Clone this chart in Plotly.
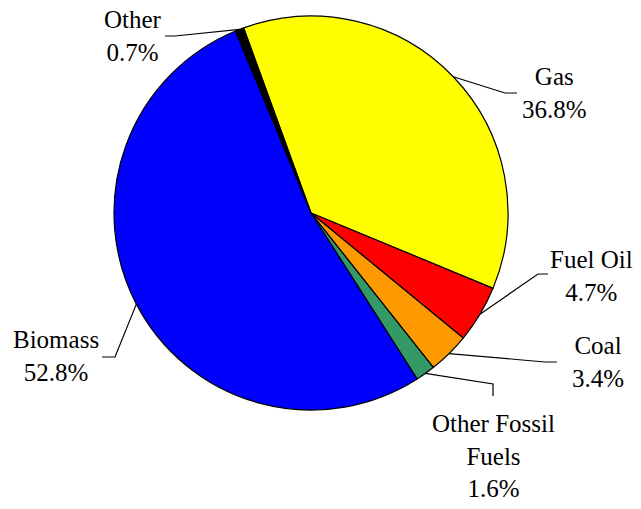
import math
import plotly.graph_objects as go

# Energy source shares (%)
sources = ["Gas", "Fuel Oil", "Coal", "Other Fossil Fuels", "Biomass", "Other"]
shares = [36.8, 4.7, 3.4, 1.6, 52.8, 0.7]
colors = ["#FFFF00", "#FF0000", "#FF9900", "#339966", "#0000FF", "#000000"]
label_texts = ["Gas", "Fuel Oil", "Coal", "Other Fossil<br>Fuels", "Biomass", "Other"]

W, H = 641, 509
CX, CY, R = 311, 213, 197      # pie centre and radius in pixels
ROTATION = -20                 # first slice starts 20 degrees left of 12 o'clock

# label block centres and leader-line bends (pixels)
label_pos = [(554, 93), (591, 276), (598, 362), (493, 456), (56, 356), (133, 36)]
leader_bends = [
    [(505, 93), (517, 93)],
    [(538, 274), (548, 274)],
    [(545, 362), (557, 362)],
    [(493, 384), (493, 396)],
    [(115, 357), (102, 357)],
    [(175, 36), (165, 36)],
]

FONT = "'Times New Roman', 'Liberation Serif', 'DejaVu Serif', serif"


def px(x):
    return x / W


def py(y):
    return 1 - y / H


fig = go.Figure(
    go.Pie(
        labels=sources,
        values=shares,
        sort=False,
        direction="clockwise",
        rotation=ROTATION,
        marker=dict(colors=colors, line=dict(color="black", width=1.2)),
        textinfo="none",
        hoverinfo="label+percent",
        showlegend=False,
        domain=dict(x=[px(CX - R), px(CX + R)], y=[py(CY + R), py(CY - R)]),
    )
)

total = sum(shares)
cum = 0.0
shapes = []
annotations = []
for i, v in enumerate(shares):
    mid = math.radians(ROTATION + 360 * (cum + v / 2) / total)
    cum += v
    ax = CX + R * math.sin(mid)
    ay = CY - R * math.cos(mid)
    pts = [(ax, ay)] + leader_bends[i]
    path = "M " + " L ".join(f"{px(x):.5f},{py(y):.5f}" for x, y in pts)
    shapes.append(dict(type="path", path=path, xref="paper", yref="paper",
                       line=dict(color="black", width=1.2)))
    lx, ly = label_pos[i]
    annotations.append(dict(
        x=px(lx), y=py(ly), xref="paper", yref="paper",
        xanchor="center", yanchor="middle", showarrow=False,
        text=f"{label_texts[i]}<br>{v:.1f}%", align="center",
        font=dict(family=FONT, size=25, color="black"),
    ))

fig.update_layout(
    width=W, height=H,
    margin=dict(l=0, r=0, t=0, b=0),
    paper_bgcolor="white", plot_bgcolor="white",
    font=dict(family=FONT),
    shapes=shapes, annotations=annotations,
)

fig.write_html("out.html")
